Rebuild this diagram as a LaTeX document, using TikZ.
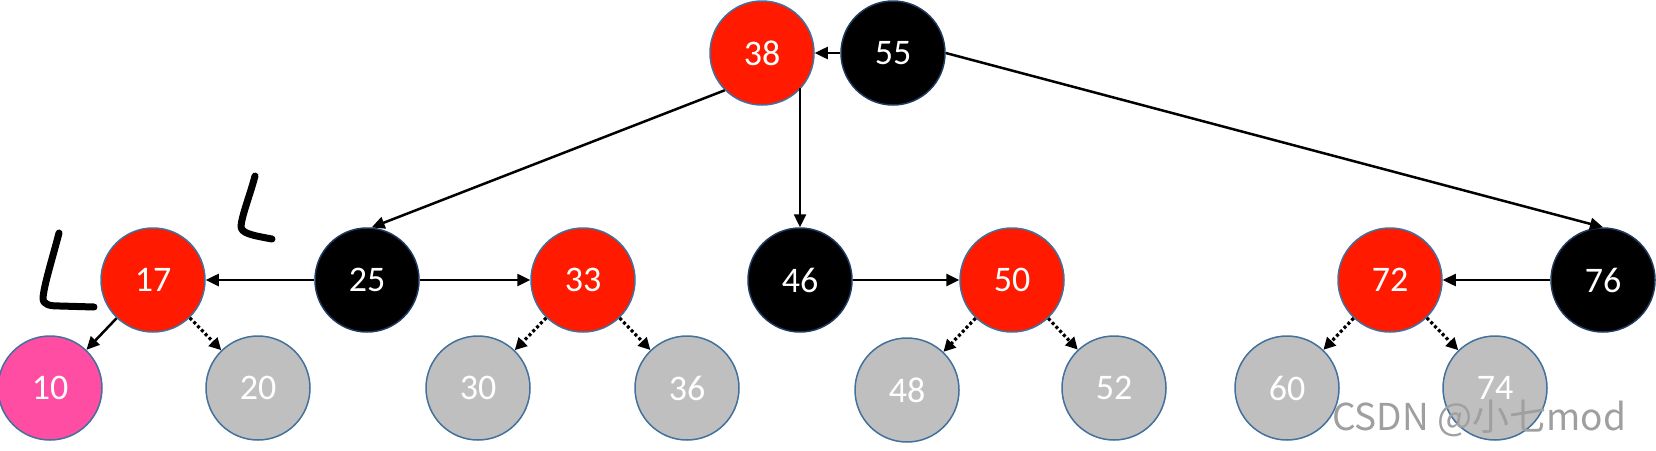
\documentclass[tikz,border=0pt]{standalone}
\usepackage{fontspec}
\setmainfont{Carlito}
\newfontfamily\wmfont{Noto Sans CJK SC}
\usetikzlibrary{arrows.meta}
\definecolor{rbred}{HTML}{FF1A00}
\definecolor{rbpink}{HTML}{FF4DA3}
\definecolor{rbgray}{HTML}{BFBFBF}
\definecolor{rbedge}{HTML}{41719C}
\definecolor{rbdark}{HTML}{1F3A5F}
\tikzset{
  tnode/.style={circle, minimum size=104pt, inner sep=0pt, line width=1.5pt,
    text=white, font=\fontsize{36}{42}\selectfont},
  rnode/.style={tnode, fill=rbred, draw=rbedge},
  bnode/.style={tnode, fill=black, draw=rbdark},
  pnode/.style={tnode, fill=rbpink, draw=rbedge},
  gnode/.style={tnode, fill=rbgray, draw=rbedge},
  arr/.style={line width=2.5pt, -{Triangle[length=13pt,width=12pt]}},
  darr/.style={line width=3.2pt, dash pattern=on 3pt off 2.5pt, -{Triangle[length=12pt,width=12pt]}},
  hand/.style={line width=7pt, line cap=round, line join=round, black},
}
\begin{document}
\begin{tikzpicture}[x=1pt,y=-1pt]
\useasboundingbox (0,0) rectangle (1656,450);
% nodes
\node[rnode] (n38) at (762,53) {38};
\node[bnode] (n55) at (893,53) {55};
\node[rnode] (n17) at (153,280) {17};
\node[bnode] (n25) at (367,280) {25};
\node[rnode] (n33) at (583,280) {33};
\node[bnode] (n46) at (800,280) {46};
\node[rnode] (n50) at (1012,280) {50};
\node[rnode] (n72) at (1390,280) {72};
\node[bnode] (n76) at (1603,280) {76};
\node[pnode] (n10) at (50,388) {10};
\node[gnode] (n20) at (258,388) {20};
\node[gnode] (n30) at (478,388) {30};
\node[gnode] (n36) at (687,388) {36};
\node[gnode] (n48) at (907,390) {48};
\node[gnode] (n52) at (1114,388) {52};
\node[gnode] (n60) at (1287,388) {60};
\node[gnode] (n74) at (1495,388) {74};
% edges
\draw[arr] (n55) -- (n38);
\draw[arr] (n38.225) -- (n25.85);
\draw[arr] (n46.north |- n38.-41.4) -- (n46.north);
\draw[arr] (n55.east) -- (n76.north);
\draw[arr] (n25) -- (n17);
\draw[arr] (n25) -- (n33);
\draw[arr] (n46) -- (n50);
\draw[arr] (n76) -- (n72);
\draw[arr] (n17) -- (n10);
\draw[darr] (n17) -- (n20);
\draw[darr] (n33) -- (n30);
\draw[darr] (n33) -- (n36);
\draw[darr] (n50) -- (n48);
\draw[darr] (n50) -- (n52);
\draw[darr] (n72) -- (n60);
\draw[darr] (n72) -- (n74);
% handwritten marks
\draw[hand] (59,233) .. controls (52,260) and (44,285) .. (43,298) .. controls (43,305) and (50,306) .. (60,306) -- (94,307);
\draw[hand] (255,176) .. controls (250,195) and (242,215) .. (241,226) .. controls (241,233) and (250,235) .. (272,239);
% watermark
\node[anchor=west, text=gray!75, font=\wmfont\fontsize{37}{42}\selectfont, inner sep=0pt] (wm) at (1332,418) {CSDN @小七mod};
\end{tikzpicture}
\end{document}
